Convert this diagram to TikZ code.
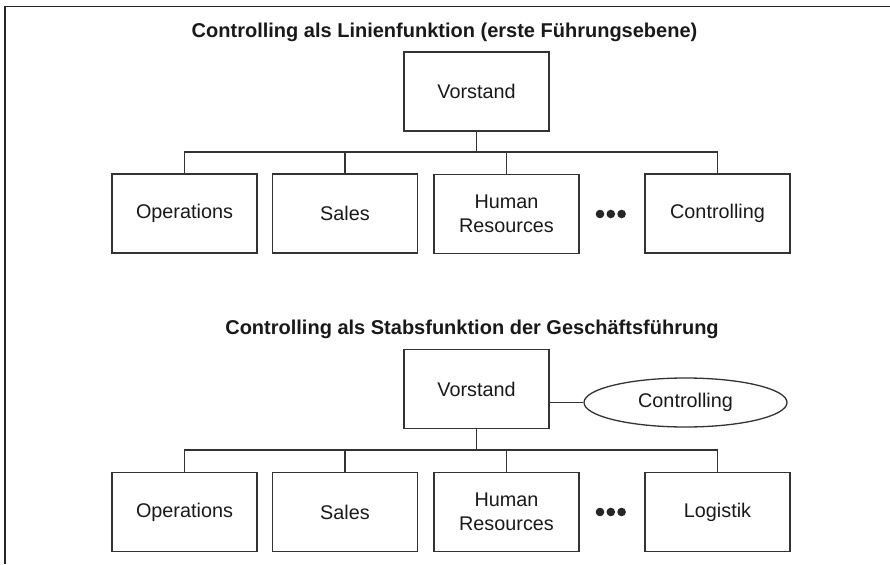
\documentclass[tikz,border=0pt]{standalone}
\usepackage{fontspec}
\setmainfont{Liberation Sans}
\usetikzlibrary{shapes.geometric}
\begin{document}
\begin{tikzpicture}[x=1pt,y=-1pt,
  lc/.style={draw=black!80,line width=1.3pt},
  unit/.style={lc,rectangle,minimum width=145pt,minimum height=79pt,inner sep=0pt,
    font=\fontsize{19.8}{24}\selectfont,align=center,text=black!90},
  staff/.style={lc,ellipse,minimum width=203pt,minimum height=49pt,inner sep=0pt,
    font=\fontsize{19.8}{24}\selectfont,text=black!90},
  heading/.style={font=\fontsize{20}{24}\selectfont\bfseries,text=black!90,inner sep=0pt},
  conn/.style={draw=black!80,line width=1.3pt},
  dot/.style={fill=black!85}]
\useasboundingbox (0,0) rectangle (890,564);
% frame
\draw[draw=black!85,line width=1.8pt] (5,564) -- (5,6.5) -- (890,6.5);

% ---- top chart
\node[heading] (t1) at (444.5,32) {Controlling als Linienfunktion (erste Führungsebene)};
\node[unit] (v1) at (476.5,91.5) {Vorstand};
\node[unit] (o1) at (184.5,213.5) {Operations};
\node[unit] (s1) at (345,213.5) {Sales};
\node[unit] (h1) at (506.5,214) {Human\\Resources};
\node[unit] (c1) at (717.5,213.5) {Controlling};
\coordinate (b1) at (476.5,152);
\draw[conn] (v1.south) -- (b1);
\draw[conn] (o1.north) |- (b1);
\draw[conn] (s1.north) |- (b1);
\draw[conn] (h1.north) |- (b1);
\draw[conn] (c1.north) |- (b1);
\fill[dot] (600,214) circle (4.3) (610.8,214) circle (4.3) (621.6,214) circle (4.3);

% ---- bottom chart
\node[heading] (t2) at (472,329) {Controlling als Stabsfunktion der Geschäftsführung};
\node[unit] (v2) at (476.5,389) {Vorstand};
\node[staff] (e2) at (685.5,402.5) {Controlling};
\node[unit] (o2) at (184.5,512) {Operations};
\node[unit] (s2) at (345,512) {Sales};
\node[unit] (h2) at (506.5,512) {Human\\Resources};
\node[unit] (l2) at (717.5,512) {Logistik};
\coordinate (b2) at (476.5,450);
\draw[conn] (v2.south) -- (b2);
\draw[conn] (o2.north) |- (b2);
\draw[conn] (s2.north) |- (b2);
\draw[conn] (h2.north) |- (b2);
\draw[conn] (l2.north) |- (b2);
\draw[conn] (e2.west) -- (e2.west -| v2.east);
\fill[dot] (600,512) circle (4.3) (610.8,512) circle (4.3) (621.6,512) circle (4.3);
\end{tikzpicture}
\end{document}
